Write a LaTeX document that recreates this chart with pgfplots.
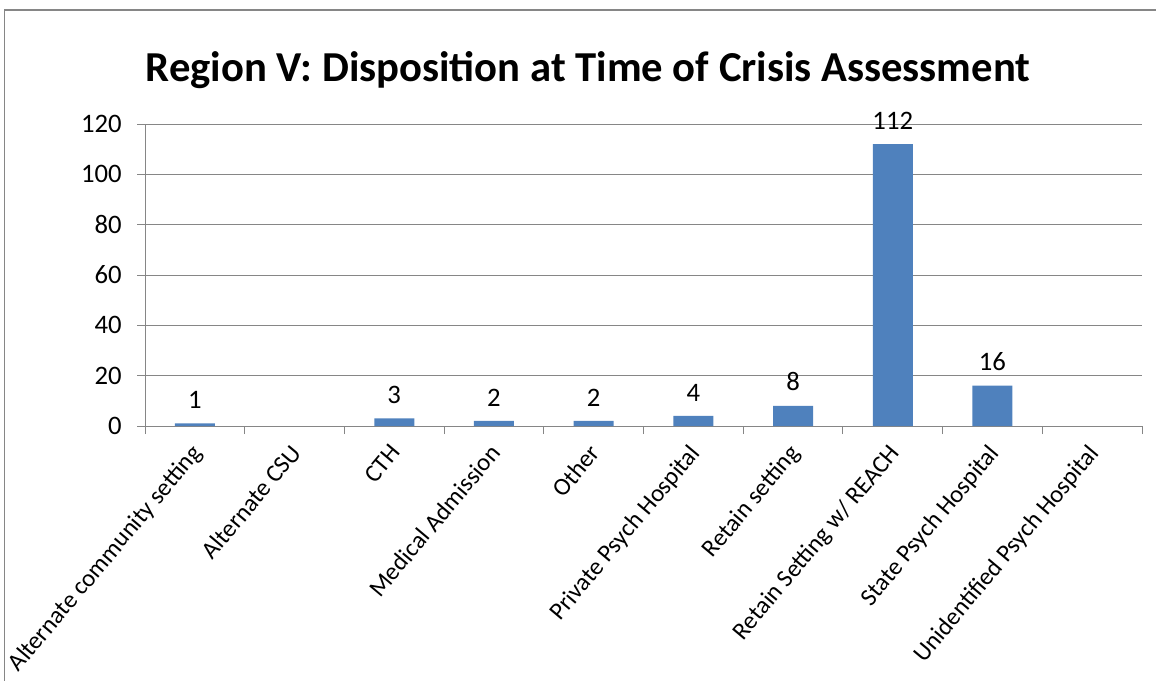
\documentclass[border=0pt]{standalone}
\usepackage{pgfplots}
\pgfplotsset{compat=1.18}
\usepackage{fontspec}
\setmainfont{Carlito}
\definecolor{barblue}{HTML}{4F81BD}
\definecolor{gridgray}{HTML}{868686}
\begin{document}
\begin{tikzpicture}
\clip (0pt,0pt) rectangle (867pt,-510.75pt);
\useasboundingbox (0pt,0pt) rectangle (867pt,-510.75pt);
\draw[gridgray, line width=1pt] (3.4pt,-7.5pt) rectangle (900pt,-540pt);
\node[anchor=base, font=\fontsize{32}{38}\selectfont\bfseries] at (441pt,-61.5pt) {Region V: Disposition at Time of Crisis Assessment};
\begin{axis}[
  at={(108.75pt,-319.5pt)}, anchor=south west,
  width=747.75pt, height=226.5pt, scale only axis,
  ymin=0, ymax=120, ytick={0,20,...,120},
  xmin=-0.5, xmax=9.5,
  ybar, bar width=30pt, bar shift=0pt,
  axis x line*=bottom, axis y line*=left,
  axis line style={gridgray, line width=0.75pt, -},
  ymajorgrids, grid style={gridgray, line width=0.75pt},
  tick align=outside, major tick length=6pt, minor tick length=6pt,
  ytick style={gridgray, line width=0.75pt},
  xtick={0,...,9},
  xticklabels={Alternate community setting, Alternate CSU, CTH, Medical Admission, Other, Private Psych Hospital, Retain setting, Retain Setting w/ REACH, State Psych Hospital, Unidentified Psych Hospital},
  major x tick style={draw=none},
  minor xtick={-0.5,0.5,...,9.5},
  minor x tick style={gridgray, line width=0.75pt},
  xticklabel style={rotate=50, anchor=north east, font=\fontsize{18.5}{22}\selectfont, inner sep=1pt, xshift=-6.5pt},
  yticklabel style={font=\fontsize{20}{24}\selectfont, xshift=-8pt},
  nodes near coords,
  every node near coord/.append style={font=\fontsize{20}{24}\selectfont, black, yshift=7.5pt},
  /pgf/number format/assume math mode=true,
  clip=false,
]
\addplot[fill=barblue, draw=none] coordinates {(0,1) (2,3) (3,2) (4,2) (5,4) (6,8) (7,112) (8,16)};
\end{axis}
\end{tikzpicture}
\end{document}
